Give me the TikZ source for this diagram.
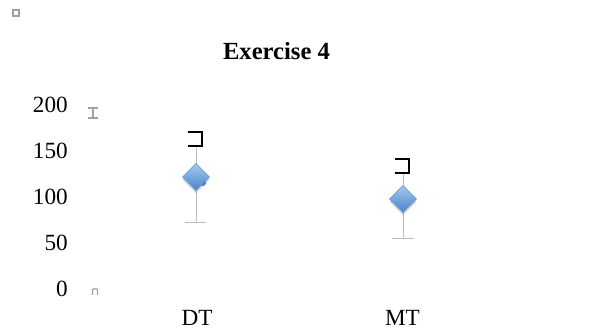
\documentclass[tikz,border=0pt]{standalone}
\usepackage{fontspec}
\setmainfont{Liberation Serif}
\usepackage{tikz}
\usetikzlibrary{shapes.geometric}
\usetikzlibrary{shadows}

\definecolor{marktop}{HTML}{A4C8F0}
\definecolor{markbot}{HTML}{4A84C8}
\definecolor{markline}{HTML}{5B8FD0}
\definecolor{bargray}{HTML}{BDBDBD}
\definecolor{glyphgray}{HTML}{A0A0A0}

\tikzset{
  ticklabel/.style={anchor=east,inner sep=0pt,font=\fontsize{16.5}{20}\selectfont},
  catlabel/.style={inner sep=0pt,font=\fontsize{16.5}{20}\selectfont},
  marker/.style={diamond,aspect=1,inner sep=0pt,minimum width=0.68cm,minimum height=0.68cm,
        draw=markline,line width=0.4pt,shade,top color=marktop,bottom color=markbot,
        drop shadow={shadow xshift=0pt,shadow yshift=-2pt,opacity=0.25,fill=black!60}},
  errbar/.style={bargray,line width=0.7pt},
  capmark/.style={black,line width=1.5pt},
  oddmark/.style={glyphgray,line width=0.9pt}
}

\begin{document}
\begin{tikzpicture}[x=0.025cm,y=-0.025cm]

\useasboundingbox (0,0) rectangle (600,333);

% stray marks
\draw [oddmark] (13,10) rectangle (19,16);
\draw [oddmark] (88,108) -- (98,108) (93,108) -- (93,118) (88,118) -- (98,118);
\draw [oddmark,rounded corners=0.5pt] (92.5,295) -- (92.5,289) -- (97.5,289) -- (97.5,295);

\node [font=\fontsize{17.5}{20}\bfseries] (title) at (276.5,51.5) {Exercise 4};

\foreach \v in {0,50,...,200}
  \node [ticklabel] (tick\v) at (68,{289-0.92*\v}) {\v};

% DT
\coordinate (dtlow) at (196,222);
\coordinate (dthigh) at (196,146);
\draw [errbar] (dthigh) -- (dtlow);
\draw [errbar] ([xshift=-8]dtlow) -- ([xshift=7]dtlow);
\draw [capmark] (188,132) -- (202,132) -- (202,146) -- (188,146);
\fill [markbot] (203,183) circle (3);
\node [marker] (dt) at (196,177) {};
\node [catlabel] (dtlabel) at (197,318) {DT};

% MT
\coordinate (mtlow) at (403,238);
\coordinate (mthigh) at (403,173);
\draw [errbar] (mthigh) -- (mtlow);
\draw [errbar] ([xshift=-8]mtlow) -- ([xshift=8]mtlow);
\draw [capmark] (395,159) -- (409,159) -- (409,173) -- (395,173);
\node [marker] (mt) at (403,199) {};
\node [catlabel] (mtlabel) at (402.5,318) {MT};

\end{tikzpicture}
\end{document}
